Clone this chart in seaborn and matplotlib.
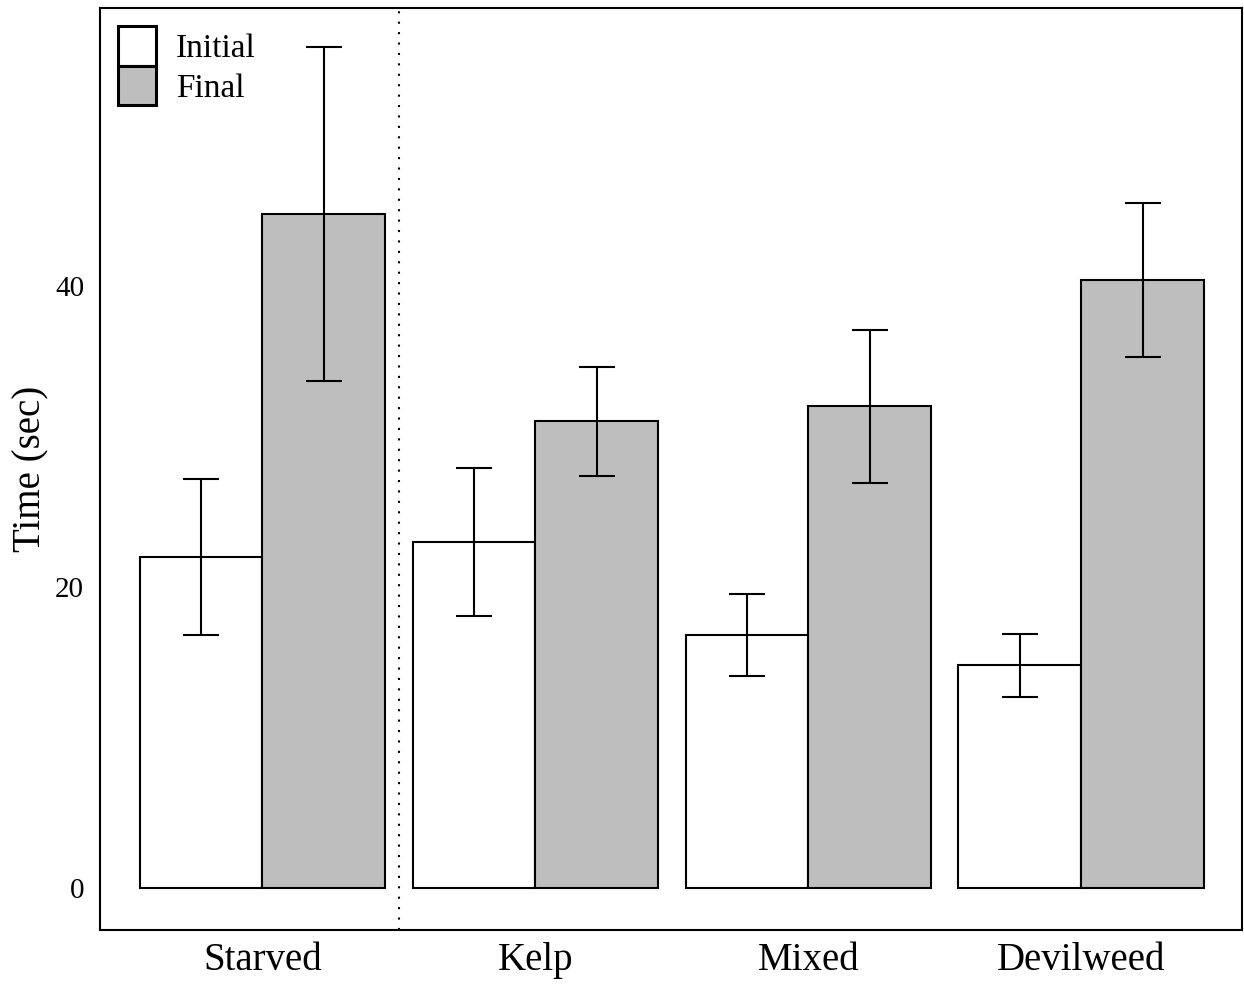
import matplotlib
matplotlib.use("Agg")
import matplotlib.pyplot as plt
import seaborn as sns
import pandas as pd
import numpy as np

# values (mean +/- error)
diets = ["Starved", "Kelp", "Mixed", "Devilweed"]
periods = ["Initial", "Final"]
initial_mean = [22.0, 23.0, 16.8, 14.8]
initial_err = [5.2, 4.9, 2.7, 2.1]
final_mean = [44.8, 31.0, 32.0, 40.4]
final_err = [11.1, 3.6, 5.1, 5.1]

df = pd.DataFrame({
    "diet": diets * 2,
    "period": ["Initial"] * 4 + ["Final"] * 4,
    "time": initial_mean + final_mean,
    "err": initial_err + final_err,
})

sns.set_theme(style="white")
plt.rcParams["font.family"] = ["Liberation Serif", "DejaVu Serif"]
plt.rcParams["text.color"] = "black"
plt.rcParams["axes.labelcolor"] = "black"
plt.rcParams["xtick.color"] = "black"
plt.rcParams["ytick.color"] = "black"

fig = plt.figure(figsize=(12.44, 9.84), dpi=100)
ax = fig.add_axes([0.080, 0.055, 0.918, 0.937])

sns.barplot(data=df, x="diet", y="time", hue="period", order=diets,
            hue_order=periods, palette={"Initial": "white", "Final": "#bebebe"},
            edgecolor="black", linewidth=1.5, width=0.9, errorbar=None,
            saturation=1, ax=ax)

# error bars at the centre of each bar drawn by seaborn
for cont, per in zip(ax.containers, periods):
    sub = df[df["period"] == per].set_index("diet").loc[diets]
    xs = [p.get_x() + p.get_width() / 2 for p in cont.patches]
    ax.errorbar(xs, sub["time"], yerr=sub["err"], fmt="none", ecolor="black",
                elinewidth=1.5, capsize=13, capthick=1.5, zorder=5)

ax.axvline(0.5, color="black", linestyle=(0, (1, 4)), linewidth=1.5)

ax.set_xlim(-0.597, 3.587)
ax.set_ylim(-2.8, 58.5)
ax.set_yticks([0, 20, 40])
ax.tick_params(axis="y", length=0, pad=11, labelsize=21, labelcolor="black")
ax.tick_params(axis="x", length=0, pad=9, labelsize=28, labelcolor="black")
ax.set_xlabel("")
ax.set_ylabel("Time (sec)", fontsize=28, labelpad=4, color="black")
for s in ax.spines.values():
    s.set_color("black")
    s.set_linewidth(1.5)

leg = ax.legend(loc="upper left", frameon=False, fontsize=24,
                handlelength=1.15, handleheight=1.45, labelspacing=0.0,
                handletextpad=0.6, borderaxespad=0.2, borderpad=0.35)
for h in leg.legend_handles:
    h.set_linewidth(2.2)

fig.savefig("out.png", dpi=100)
